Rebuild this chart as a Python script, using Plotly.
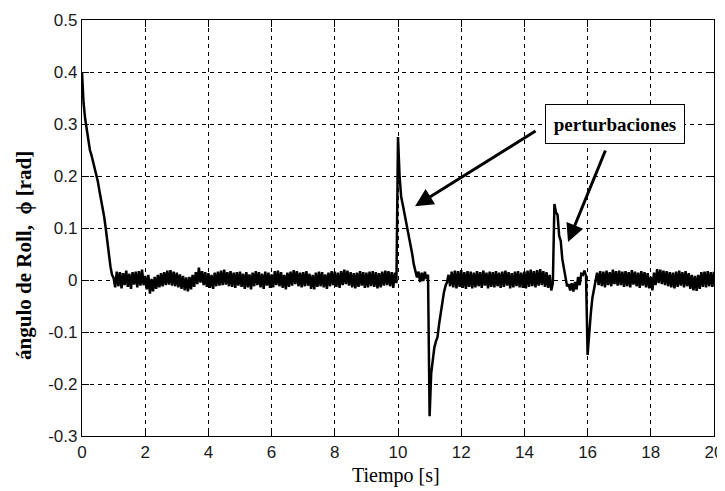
import plotly.graph_objects as go

# sampling of the recorded signal
t_start = 0.0
dt = 0.05

# roll angle [rad], one row per second (20 samples each) + final sample
roll = [
    0.400, 0.340, 0.310, 0.290, 0.270, 0.250, 0.240, 0.228, 0.215, 0.200, 0.190, 0.172, 0.157, 0.140, 0.122, 0.100, 0.072, 0.046, 0.026, 0.010,
    0.004, -0.014, 0.016, -0.012, 0.015, -0.016, 0.013, -0.010, 0.018, -0.013, 0.012, -0.017, 0.015, -0.009, 0.016, -0.014, 0.017, -0.011, 0.020, -0.010,
    0.008, -0.018, 0.010, -0.026, 0.002, -0.022, 0.006, -0.017, 0.010, -0.014, 0.013, -0.012, 0.015, -0.010, 0.018, -0.009, 0.019, -0.011, 0.016, -0.012,
    0.014, -0.014, 0.011, -0.017, 0.008, -0.020, 0.005, -0.022, 0.006, -0.018, 0.010, -0.013, 0.015, -0.008, 0.024, -0.005, 0.017, -0.010, 0.015, -0.013,
    0.013, -0.015, 0.010, -0.017, 0.014, -0.012, 0.016, -0.011, 0.018, -0.010, 0.020, -0.009, 0.015, -0.012, 0.017, -0.013, 0.014, -0.015, 0.015, -0.011,
    0.016, -0.013, 0.012, -0.017, 0.015, -0.014, 0.011, -0.018, 0.014, -0.012, 0.017, -0.010, 0.015, -0.014, 0.012, -0.017, 0.016, -0.011, 0.014, -0.015,
    0.011, -0.014, 0.017, -0.010, 0.018, -0.012, 0.015, -0.015, 0.010, -0.018, 0.014, -0.013, 0.016, -0.011, 0.019, -0.008, 0.017, -0.012, 0.014, -0.014,
    0.015, -0.012, 0.017, -0.011, 0.012, -0.017, 0.010, -0.018, 0.014, -0.013, 0.016, -0.012, 0.015, -0.014, 0.011, -0.017, 0.014, -0.012, 0.017, -0.010,
    0.016, -0.013, 0.014, -0.015, 0.017, -0.010, 0.020, -0.008, 0.018, -0.011, 0.015, -0.014, 0.013, -0.016, 0.014, -0.013, 0.017, -0.011, 0.015, -0.015,
    0.014, -0.014, 0.016, -0.012, 0.017, -0.013, 0.015, -0.016, 0.013, -0.014, 0.016, -0.011, 0.018, -0.010, 0.017, -0.012, 0.015, -0.015, 0.014, -0.006,
    0.275, 0.200, 0.160, 0.145, 0.130, 0.115, 0.100, 0.085, 0.065, 0.050, 0.030, 0.015, 0.005, 0.016, -0.004, 0.014, -0.002, 0.016, 0.002, 0.010,
    -0.262, -0.180, -0.155, -0.130, -0.118, -0.110, -0.085, -0.062, -0.040, -0.025, -0.012, -0.004, 0.010, -0.012, 0.016, -0.014, 0.018, -0.016, 0.017, -0.013,
    0.019, -0.015, 0.015, -0.017, 0.017, -0.013, 0.016, -0.016, 0.014, -0.014, 0.017, -0.012, 0.015, -0.015, 0.018, -0.011, 0.014, -0.016, 0.016, -0.013,
    0.015, -0.014, 0.017, -0.012, 0.014, -0.015, 0.016, -0.013, 0.018, -0.011, 0.015, -0.016, 0.013, -0.014, 0.016, -0.012, 0.017, -0.014, 0.014, -0.015,
    0.016, -0.016, 0.018, -0.013, 0.020, -0.012, 0.017, -0.014, 0.019, -0.011, 0.021, -0.010, 0.017, -0.013, 0.015, -0.015, 0.010, -0.020, -0.006, 0.146,
    0.130, 0.125, 0.085, 0.075, 0.040, 0.022, 0.008, -0.012, -0.008, -0.020, -0.006, -0.022, -0.004, -0.018, 0.006, -0.010, 0.012, 0.010, 0.018, 0.008,
    -0.144, -0.095, -0.065, -0.035, -0.020, -0.004, 0.014, -0.010, 0.017, -0.012, 0.016, -0.014, 0.018, -0.010, 0.015, -0.012, 0.020, -0.008, 0.017, -0.011,
    0.018, -0.010, 0.016, -0.013, 0.017, -0.012, 0.015, -0.014, 0.019, -0.009, 0.016, -0.012, 0.014, -0.015, 0.017, -0.011, 0.015, -0.014, 0.013, -0.016,
    0.006, -0.020, 0.014, -0.010, 0.021, -0.006, 0.020, -0.008, 0.018, -0.010, 0.017, -0.012, 0.015, -0.014, 0.014, -0.016, 0.016, -0.013, 0.018, -0.011,
    0.015, -0.014, 0.017, -0.012, 0.013, -0.017, 0.010, -0.020, 0.008, -0.021, 0.010, -0.017, 0.015, -0.013, 0.016, -0.014, 0.017, -0.012, 0.015, -0.013,
    0.016,
]

time = [round(t_start + i * dt, 3) for i in range(len(roll))]

x_ticks = [0, 2, 4, 6, 8, 10, 12, 14, 16, 18, 20]
x_tick_labels = ["0", "2", "4", "6", "8", "10", "12", "14", "16", "18", "20"]
y_ticks = [-0.3, -0.2, -0.1, 0, 0.1, 0.2, 0.3, 0.4, 0.5]
y_tick_labels = ["-0.3", "-0.2", "-0.1", "0", "0.1", "0.2", "0.3", "0.4", "0.5"]

label_text = "perturbaciones"
arrow_targets_x = [10.54, 15.38]
arrow_targets_y = [0.142, 0.073]

fig = go.Figure()
fig.add_trace(go.Scatter(x=time, y=roll, mode="lines",
                         line=dict(color="black", width=2.5), showlegend=False))

axis_common = dict(
    showline=True, linecolor="black", linewidth=1.3, mirror="allticks",
    ticks="inside", ticklen=7, tickcolor="black", tickwidth=1,
    showgrid=True, gridcolor="black", gridwidth=1, griddash="4px,4px",
    zeroline=False, automargin=False,
    tickfont=dict(family="Arial, Liberation Sans, sans-serif", size=17, color="#1a1a1a"),
)

fig.update_xaxes(range=[0, 20], tickvals=x_ticks, ticktext=x_tick_labels, **axis_common)
fig.update_yaxes(range=[-0.3, 0.5], tickvals=y_ticks, ticktext=y_tick_labels, **axis_common)

annotations = [
    dict(text="Tiempo [s]", xref="paper", yref="paper", x=0.497, y=-0.096,
         showarrow=False, xanchor="center", yanchor="middle",
         font=dict(family="Liberation Serif, Times New Roman, serif", size=20, color="black")),
    dict(text="<b>ángulo de Roll,  ϕ [rad]</b>", xref="paper", yref="paper", x=-0.092, y=0.435,
         showarrow=False, textangle=-90, xanchor="center", yanchor="middle",
         font=dict(family="Liberation Serif, Times New Roman, serif", size=21, color="black")),
    dict(text="<b>" + label_text + "</b>", xref="paper", yref="paper", x=0.8426, y=0.75,
         showarrow=False, xanchor="center", yanchor="middle",
         bordercolor="black", borderwidth=1, borderpad=7, bgcolor="white",
         width=124, height=24,
         font=dict(family="Liberation Serif, Times New Roman, serif", size=19, color="black")),
]
for ax_off, ay_off, tx, ty in zip([122, 38], [-76, -93], arrow_targets_x, arrow_targets_y):
    annotations.append(dict(text="", x=tx, y=ty, xref="x", yref="y", ax=ax_off, ay=ay_off,
                            showarrow=True, arrowhead=2, arrowsize=1.2, arrowwidth=3,
                            arrowcolor="black", standoff=0))

# the page body adds an 8 px offset, so the figure is 8 px smaller and shifted
fig.update_layout(
    width=717, height=483,
    margin=dict(l=74, r=11, t=12, b=55),
    plot_bgcolor="white", paper_bgcolor="white",
    annotations=annotations,
)

fig.write_html("out.html")
